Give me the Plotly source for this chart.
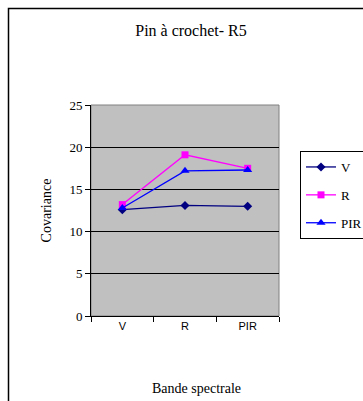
import plotly.graph_objects as go

categories = ["V", "R", "PIR"]
serie_V = [12.6, 13.1, 13.0]
serie_R = [13.2, 19.1, 17.5]
serie_PIR = [12.8, 17.2, 17.3]
y_ticks = [0, 5, 10, 15, 20, 25]

W, H = 390, 401
L, R_, T, B = 91, 111, 105, 85
pw, ph = W - L - R_, H - T - B

def px(x):
    return (x - L) / pw

def py(y):
    return (H - B - y) / ph

serif = "Liberation Serif"
fig = go.Figure()
fig.add_trace(go.Scatter(x=categories, y=serie_V, name="V", mode="lines+markers",
                         line=dict(color="#000080", width=1.3),
                         marker=dict(symbol="diamond", size=7, color="#000080"),
                         legendgroup="a"))
fig.add_trace(go.Scatter(x=categories, y=serie_R, name="R", mode="lines+markers",
                         line=dict(color="#FF00FF", width=1.3),
                         marker=dict(symbol="square", size=7, color="#FF00FF"),
                         legendgroup="b"))
fig.add_trace(go.Scatter(x=categories, y=serie_PIR, name="PIR", mode="lines+markers",
                         line=dict(color="#0000FF", width=1.3),
                         marker=dict(symbol="triangle-up", size=8, color="#0000FF"),
                         legendgroup="c"))

fig.update_layout(
    width=W, height=H, autosize=False,
    margin=dict(l=L, r=R_, t=T, b=B),
    paper_bgcolor="white", plot_bgcolor="#C0C0C0",
    title=dict(text="Pin à crochet- R5", xref="paper", x=px(191), xanchor="center",
               y=1 - 30 / H, yanchor="middle",
               font=dict(family=serif, size=16, color="black")),
    showlegend=True,
    legend=dict(x=px(300), xanchor="left", y=py(151), yanchor="top",
                bordercolor="black", borderwidth=1, bgcolor="white",
                font=dict(family=serif, size=13, color="black"),
                tracegroupgap=8, itemwidth=30),
    xaxis=dict(type="category", tickson="boundaries", ticks="outside", ticklen=5,
               tickcolor="black", showline=True, linecolor="black", linewidth=1,
               showgrid=False, tickfont=dict(family="Liberation Sans", size=11, color="black"),
               range=[-0.5, 2.5], fixedrange=True),
    yaxis=dict(range=[0, 25], tickvals=y_ticks, ticks="outside", ticklen=5,
               tickcolor="black", showline=True, linecolor="black", linewidth=1,
               showgrid=True, gridcolor="black", gridwidth=1, zeroline=False,
               tickfont=dict(family=serif, size=13, color="black"),
               title=dict(text="Covariance", standoff=14,
                          font=dict(family=serif, size=14, color="black"))),
    shapes=[
        dict(type="rect", xref="paper", yref="paper", x0=0, x1=1, y0=0, y1=1,
             line=dict(color="#808080", width=1), layer="below"),
        dict(type="rect", xref="paper", yref="paper", x0=px(8.5), x1=px(450),
             y0=py(420), y1=py(8.5), line=dict(color="black", width=1.5)),
    ],
    annotations=[
        dict(text="Bande spectrale", xref="paper", yref="paper", x=px(196), y=py(388),
             xanchor="center", yanchor="middle", showarrow=False,
             font=dict(family=serif, size=14, color="black")),
    ],
)

fig.write_html("out.html", config={"displayModeBar": False},
               post_script="document.body.style.margin='0';document.body.style.overflow='hidden';")
